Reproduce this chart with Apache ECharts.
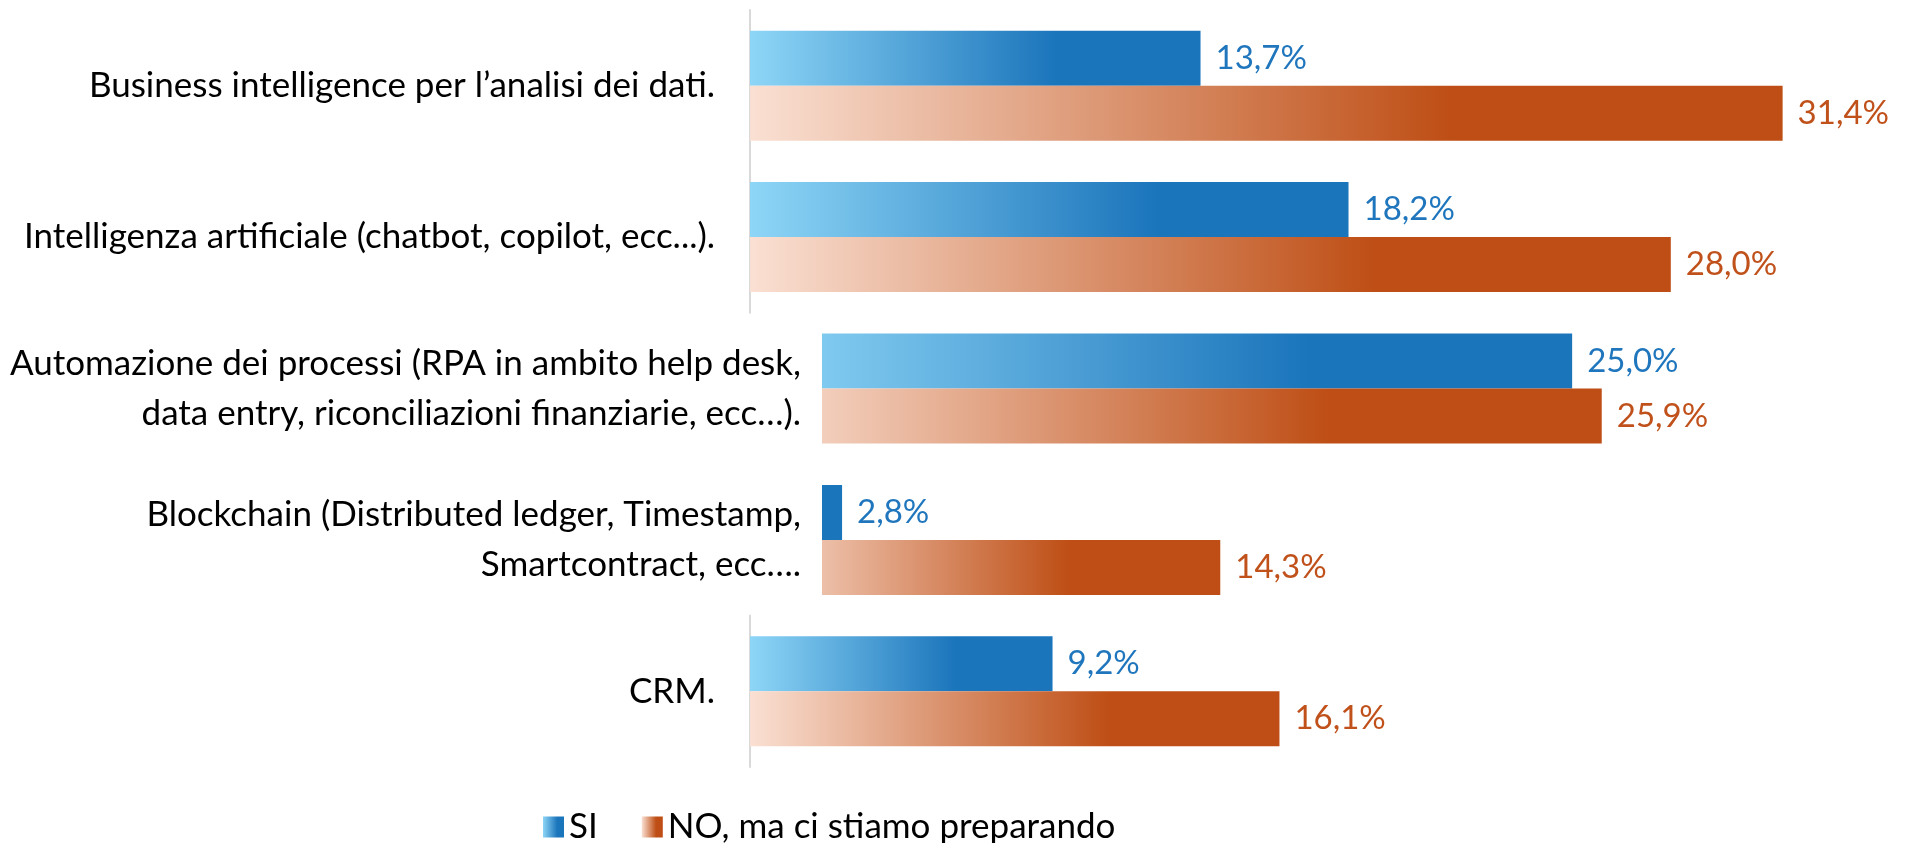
<!DOCTYPE html>
<html>
<head>
    <meta charset="utf-8">
    <script src="https://cdn.jsdelivr.net/npm/echarts@6/dist/echarts.min.js"></script>
    <style type="text/css">
        html, body { margin: 0; padding: 0; background: #fff; }
        #main { width: 1909px; height: 843px; }
    </style>
</head>
<body>
    <div id="main"></div>
    <script>
        // dati
        const categories = [
            'Business intelligence per l\u2019analisi dei dati.',
            'Intelligenza artificiale (chatbot, copilot, ecc...).',
            'Automazione dei processi (RPA in ambito help desk,\ndata entry, riconciliazioni finanziarie, ecc\u2026).',
            'Blockchain (Distributed ledger, Timestamp,\nSmartcontract, ecc\u2026.',
            'CRM.'
        ];
        const siValues = [13.7, 18.2, 25.0, 2.8, 9.2];
        const noValues = [31.4, 28.0, 25.9, 14.3, 16.1];
        const seriesNames = ['SI', 'NO, ma ci stiamo preparando'];

        const FONT = 'Lato';
        const xMax = 35;
        const plotLeft = 750, plotRight = 8;
        const plotWidth = 1909 - plotLeft - plotRight;
        const midShift = 72;                        // righe centrali spostate a destra
        const midMin = midShift * xMax / plotWidth;  // il valore che cade sotto lo spostamento
        const band = 151.4;

        const blue = ['#8ed6f7', '#1b75bb'];
        const orange = ['#fae0d3', '#be4e15'];

        // gradiente sulla barra intera, anche se la parte iniziale e' tagliata
        function grad(c, v, min) {
            const x0 = min > 0 ? -min / (v - min) : 0;
            return {
                type: 'linear', x: x0, y: 0, x2: 1, y2: 0,
                colorStops: [
                    {offset: 0, color: c[0]},
                    {offset: 0.68, color: c[1]},
                    {offset: 1, color: c[1]}
                ]
            };
        }

        const fmt = p => p.value.toFixed(1).replace('.', ',') + '%';

        // gruppi di righe: [da, a, spostamento]
        const groups = [[0, 2, 0], [2, 4, midShift], [4, 5, 0]];

        const grids = [], xAxes = [], yAxes = [], series = [];
        let yPos = 10;
        groups.forEach(([a, b, shift], gi) => {
            const n = b - a;
            const min = shift ? midMin : 0;
            grids.push({left: plotLeft + shift, right: plotRight, top: yPos, height: band * n});
            yPos += band * n;
            xAxes.push({type: 'value', gridIndex: gi, min: min, max: xMax, show: false, splitLine: {show: false}});
            yAxes.push({
                type: 'category', gridIndex: gi, inverse: true,
                data: categories.slice(a, b),
                axisTick: {show: false},
                axisLine: {show: !shift, lineStyle: {color: '#d9d9d9', width: 2}},
                axisLabel: {
                    margin: shift ? 21 : 35,
                    fontFamily: FONT, fontSize: 35, color: '#000', lineHeight: 50, align: 'right'
                }
            });
            [[siValues, blue, '#1f76bd'], [noValues, orange, '#c0511b']].forEach(([vals, c, lc], si) => {
                series.push({
                    name: seriesNames[si],
                    type: 'bar',
                    xAxisIndex: gi, yAxisIndex: gi,
                    barWidth: 55, barGap: '0%',
                    itemStyle: {color: grad(c, 1, 0)},
                    data: vals.slice(a, b).map(v => ({value: v, itemStyle: {color: grad(c, v, min)}})),
                    label: {
                        show: true, position: 'right', distance: 15,
                        formatter: fmt, fontFamily: FONT, fontSize: 33, color: lc
                    }
                });
            });
        });

        const myChart = echarts.init(document.getElementById('main'));
        myChart.setOption({
            backgroundColor: '#fff',
            animation: false,
            legend: {
                data: seriesNames,
                left: 538, top: 802,
                itemWidth: 21, itemHeight: 21, itemGap: 44,
                icon: 'rect',
                textStyle: {fontFamily: FONT, fontSize: 35, color: '#000', lineHeight: 40}
            },
            grid: grids,
            xAxis: xAxes,
            yAxis: yAxes,
            series: series
        });
    </script>
</body>
</html>
